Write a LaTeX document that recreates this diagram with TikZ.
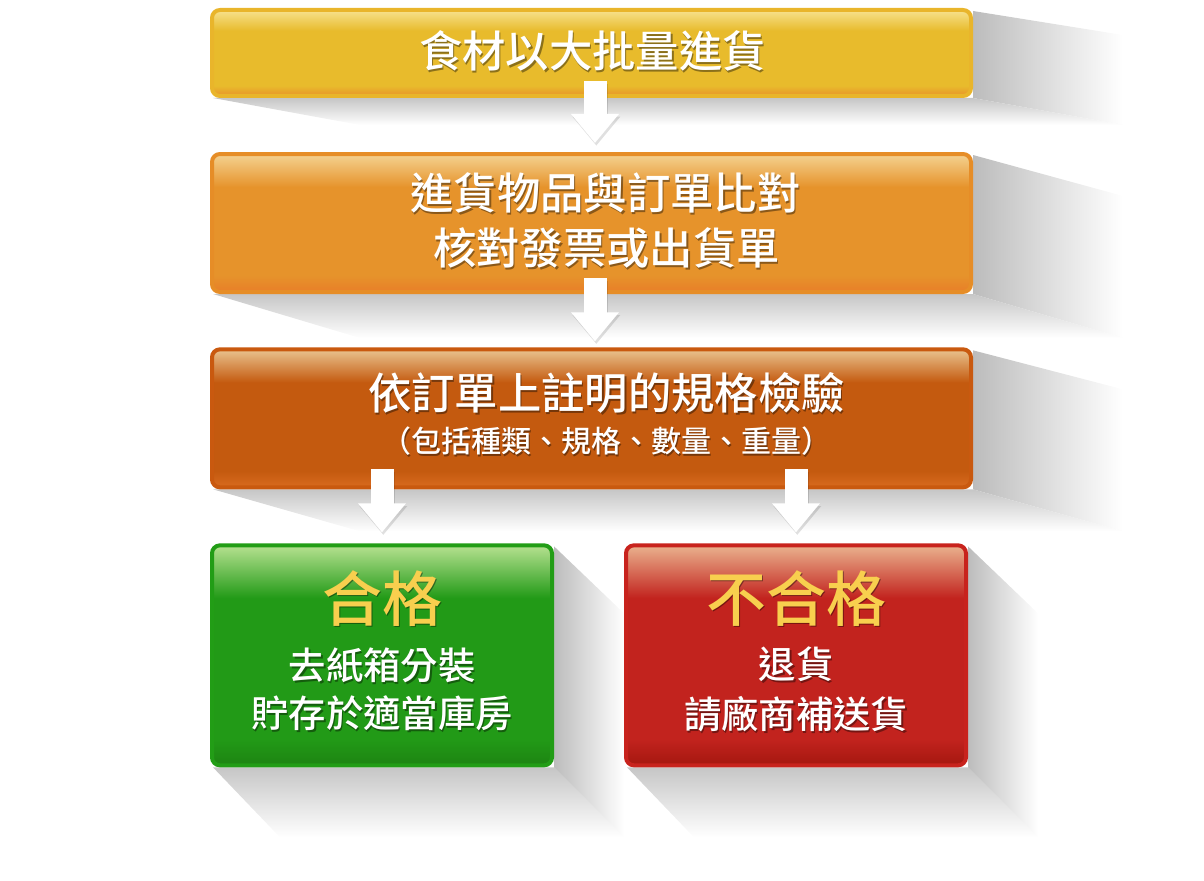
\documentclass[tikz,border=0pt]{standalone}
\usepackage{fontspec}
\setmainfont{Noto Sans CJK TC}[BoldFont={Noto Sans CJK TC Medium}]
\usetikzlibrary{positioning,calc,arrows.meta,backgrounds}

\definecolor{yellowedge}{HTML}{E9B52B}
\definecolor{yellowtop}{HTML}{F7E28E}
\definecolor{yellowmain}{HTML}{E8BB2C}
\definecolor{yellowbottom}{HTML}{E8922A}
\definecolor{orangeedge}{HTML}{E68D27}
\definecolor{orangetop}{HTML}{F4D291}
\definecolor{orangemain}{HTML}{E6932B}
\definecolor{orangebottom}{HTML}{E87E28}
\definecolor{rustedge}{HTML}{C9590F}
\definecolor{rusttop}{HTML}{E9C38F}
\definecolor{rustmain}{HTML}{C45A0F}
\definecolor{rustbottom}{HTML}{D86A1F}
\definecolor{greenedge}{HTML}{229D16}
\definecolor{greentop}{HTML}{B6E190}
\definecolor{greenmain}{HTML}{229A17}
\definecolor{greenbottom}{HTML}{1D8412}
\definecolor{rededge}{HTML}{C8231D}
\definecolor{redtop}{HTML}{EAB28E}
\definecolor{redmain}{HTML}{C2231E}
\definecolor{redbottom}{HTML}{A5170F}
\definecolor{titleyellow}{HTML}{F8CF4E}
\definecolor{shadowgray}{HTML}{BCBCBC}

\newcommand{\boxshading}[4]{%
	\pgfdeclareverticalshading{#1}{100bp}{color(0bp)=(#4); color(25bp)=(#4); color(31bp)=(#3); color(63bp)=(#3); color(75bp)=(#2); color(100bp)=(#2)}}
\boxshading{yellowfill}{yellowtop}{yellowmain}{yellowbottom}
\boxshading{orangefill}{orangetop}{orangemain}{orangebottom}
\boxshading{rustfill}{rusttop}{rustmain}{rustbottom}
\boxshading{greenfill}{greentop}{greenmain}{greenbottom}
\boxshading{redfill}{redtop}{redmain}{redbottom}

\newcommand{\bigcjk}{\bfseries\fontsize{32.5}{40}\selectfont}
\newcommand{\smallcjk}{\bfseries\fontsize{22.5}{27}\selectfont}
\newcommand{\titlecjk}{\bfseries\fontsize{45}{54}\selectfont}
\newcommand{\bodycjk}{\bfseries\fontsize{28}{34}\selectfont}

\tikzset{
	box/.style={shade, rounded corners=6pt, line width=3pt, inner sep=0pt, minimum width=569.25pt},
	smallbox/.style={box, minimum width=255pt, minimum height=165pt},
	boxtext/.style={text=white, inner sep=0pt},
	glow/.style={text=black, opacity=.4, xshift=1pt, yshift=-1.3pt},
	flow/.style={draw=white, line width=17.25pt, -{Triangle[width=34.5pt,length=21.75pt]}},
	flowshadow/.style={flow, draw=black, opacity=.12, transform canvas={xshift=1pt,yshift=-2pt}},
}

% text with a dark halo
\newcommand{\glowtext}[4]{%
	\node[boxtext, #3, glow] (#1-glow) at #2 {#4};
	\node[boxtext, #3] (#1) at #2 {#4};
}
% long shadow behind a box
\newcommand{\longshadow}[3]{%
	\shade[left color=shadowgray, right color=white] ([shift={(0,3)}]#1.north east) -- ([shift={(#2,#3)}]#1.north east) -- ([shift={(#2,#3)}]#1.south east) -- (#1.south east) -- cycle;
	\shade[top color=shadowgray!85, bottom color=white] ([shift={(3,0)}]#1.south west) -- (#1.south east) -- ([shift={(#2,#3)}]#1.south east) -- ([shift={(#2,#3)}]#1.south west) -- cycle;
}

\begin{document}
\begin{tikzpicture}[x=0.75pt,y=-0.75pt]
	\useasboundingbox (0,0) rectangle (1204,881);

	\node[box, shading=yellowfill, draw=yellowedge, minimum height=64.5pt] (bulk) at (591.5,53) {};
	\node[box, shading=orangefill, draw=orangeedge, minimum height=103.5pt, below=40.5pt of bulk] (match) {};
	\node[box, shading=rustfill, draw=rustedge, minimum height=103.5pt, below=40pt of match] (inspect) {};
	\node[smallbox, shading=greenfill, draw=greenedge, below=40.5pt of inspect.south west, anchor=north west] (pass) {};
	\node[smallbox, shading=redfill, draw=rededge, right=52.5pt of pass] (fail) {};

	\begin{scope}[on background layer]
		\longshadow{bulk}{150}{27}
		\longshadow{match}{150}{44}
		\longshadow{inspect}{150}{42}
		\longshadow{pass}{70}{70}
		\longshadow{fail}{70}{70}
	\end{scope}

	\glowtext{bulk-text}{([shift={(1,-2)}]bulk.center)}{font=\bigcjk}{食材以大批量進貨}
	\glowtext{match-text1}{([shift={(14,-30)}]match.center)}{font=\bigcjk}{進貨物品與訂單比對}
	\glowtext{match-text2}{([shift={(15,25)}]match.center)}{font=\bigcjk}{核對發票或出貨單}
	\glowtext{inspect-text1}{([shift={(15,-25)}]inspect.center)}{font=\bigcjk}{依訂單上註明的規格檢驗}
	\glowtext{inspect-text2}{([shift={(15,23)}]inspect.center)}{font=\smallcjk}{（包括種類、規格、數量、重量）}
	\glowtext{pass-title}{([shift={(0,-57)}]pass.center)}{font=\titlecjk, text=titleyellow}{合格}
	\glowtext{pass-text1}{([shift={(0,10)}]pass.center)}{font=\bodycjk}{去紙箱分裝}
	\glowtext{pass-text2}{([shift={(0,58)}]pass.center)}{font=\bodycjk}{貯存於適當庫房}
	\glowtext{fail-title}{([shift={(0,-57)}]fail.center)}{font=\titlecjk, text=titleyellow}{不合格}
	\glowtext{fail-text1}{([shift={(0,9)}]fail.center)}{font=\bodycjk}{退貨}
	\glowtext{fail-text2}{([shift={(0,59)}]fail.center)}{font=\bodycjk}{請廠商補送貨}

	\draw[flowshadow] ([shift={(3.5,-17)}]bulk.south) -- ([shift={(3.5,-9)}]match.north);
	\draw[flow] ([shift={(3.5,-17)}]bulk.south) -- ([shift={(3.5,-9)}]match.north);
	\draw[flowshadow] ([shift={(3.5,-16)}]match.south) -- ([shift={(3.5,-6)}]inspect.north);
	\draw[flow] ([shift={(3.5,-16)}]match.south) -- ([shift={(3.5,-6)}]inspect.north);
	\draw[flowshadow] ($(inspect.south -| pass.north)+(0,-20)$) -- ([shift={(0,-11)}]pass.north);
	\draw[flow] ($(inspect.south -| pass.north)+(0,-20)$) -- ([shift={(0,-11)}]pass.north);
	\draw[flowshadow] ($(inspect.south -| fail.north)+(0,-20)$) -- ([shift={(0,-11)}]fail.north);
	\draw[flow] ($(inspect.south -| fail.north)+(0,-20)$) -- ([shift={(0,-11)}]fail.north);
\end{tikzpicture}
\end{document}
